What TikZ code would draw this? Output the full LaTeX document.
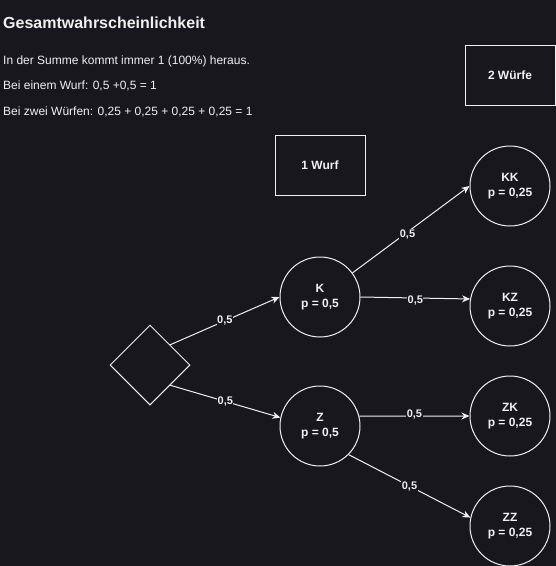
\documentclass[tikz,border=0pt]{standalone}
\usepackage{fontspec}
\setmainfont{Liberation Sans}
\usetikzlibrary{shapes.geometric,arrows.meta}
\definecolor{bg}{RGB}{24,23,30}
\definecolor{fg}{RGB}{240,240,240}
\tikzset{
  body/.style={text=fg,font=\fontsize{12}{14.4}\selectfont,inner sep=0pt,anchor=base west},
  state/.style={circle,draw=fg,line width=1pt,minimum size=80pt,inner sep=0pt,text=fg,align=center,font=\bfseries\fontsize{12}{14.4}\selectfont},
  stagebox/.style={rectangle,draw=fg,line width=1pt,minimum width=90pt,minimum height=60pt,inner sep=0pt,text=fg,font=\bfseries\fontsize{12}{14.4}\selectfont},
  conn/.style={draw=fg,line width=1pt,-{Stealth[length=8pt,width=7pt,inset=2.5pt]}},
  prob/.style={fill=bg,text=fg,inner sep=0.5pt,font=\bfseries\fontsize{11}{13}\selectfont},
}
\begin{document}
\begin{tikzpicture}[x=1pt,y=-1pt]
\fill[bg] (0,0) rectangle (556,566);
\useasboundingbox (0,0) rectangle (556,566);
\node[body,font=\bfseries\fontsize{16}{19}\selectfont] (title) at (3,28) {Gesamtwahrscheinlichkeit};
\node[body] (l1) at (3,64) {In der Summe kommt immer 1 (100\%) heraus.};
\node[body] (l2) at (3,89) {Bei einem Wurf: 0,5 +0,5 = 1};
\node[body] (l3) at (3,115) {Bei zwei Würfen: 0,25 + 0,25 + 0,25 + 0,25 = 1};
\node[stagebox] (w2) at (510,75) {2 Würfe};
\node[stagebox] (w1) at (320,165) {1 Wurf};
\node[diamond,draw=fg,line width=1pt,minimum width=80pt,minimum height=80pt,inner sep=0pt,shape aspect=1] (D) at (150,365) {};
\node[state] (K) at (320,297) {K\\p = 0,5};
\node[state] (Z) at (320,426) {Z\\p = 0,5};
\node[state] (KK) at (510,186) {KK\\p = 0,25};
\node[state] (KZ) at (510,306) {KZ\\p = 0,25};
\node[state] (ZK) at (510,416) {ZK\\p = 0,25};
\node[state] (ZZ) at (510,526) {ZZ\\p = 0,25};
\draw[conn] (D.north east) -- node[prob] {0,5} (K.west);
\draw[conn] (D.south east) -- node[prob] {0,5} (Z.168);
\draw[conn] (K) -- node[prob,pos=0.47,yshift=-2pt] {0,5} (KK.west);
\draw[conn] (K.east) -- node[prob,yshift=-3pt] {0,5} (KZ.170);
\draw[conn] (Z.14) -- node[prob,yshift=2pt] {0,5} (ZK.west);
\draw[conn] (Z.south east) -- node[prob] {0,5} (ZZ.168);
\end{tikzpicture}
\end{document}
